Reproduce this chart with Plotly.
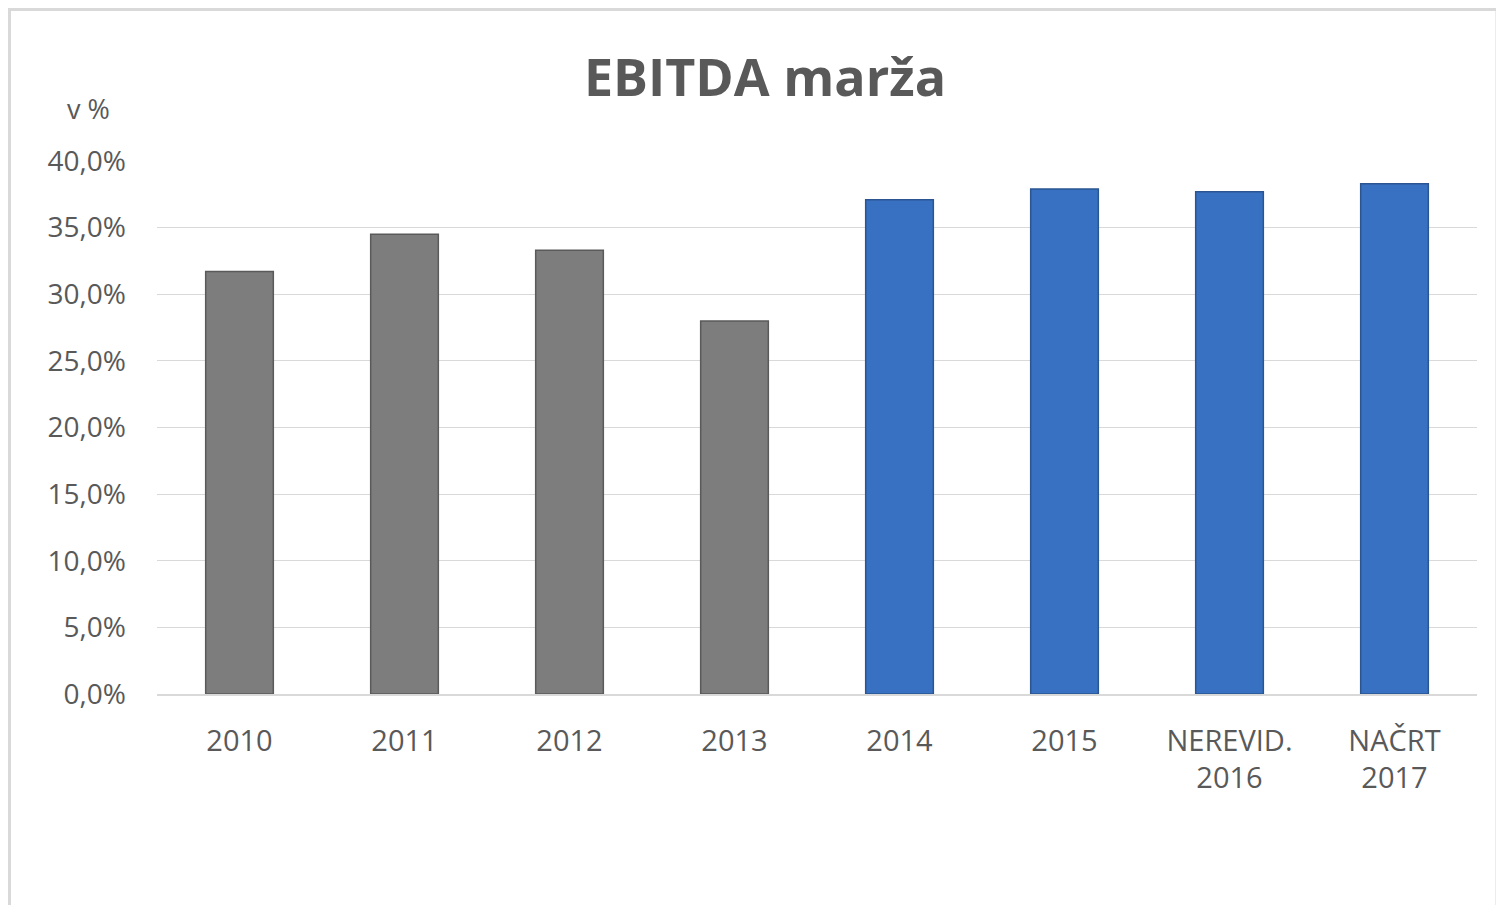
import plotly.graph_objects as go

categories = ["2010", "2011", "2012", "2013", "2014", "2015", "NEREVID.<br>2016", "NAČRT<br>2017"]
values = [31.7, 34.5, 33.3, 28.0, 37.1, 37.9, 37.7, 38.3]
bar_colors = ["#7d7d7d"] * 4 + ["#3871c2"] * 4
edge_colors = ["#5a5a5a"] * 4 + ["#2a5591"] * 4
tick_vals = [0, 5, 10, 15, 20, 25, 30, 35, 40]
tick_text = ["0,0%", "5,0%", "10,0%", "15,0%", "20,0%", "25,0%", "30,0%", "35,0%", "40,0%"]

OFF = 8  # page body margin
W, H = 1504, 905
L, R, T, B = 157 - OFF, 27 + OFF, 161 - OFF, 211 + OFF
pw, ph = W - L - R, H - T - B

fig = go.Figure()
fig.add_trace(go.Bar(
    x=categories, y=values,
    marker=dict(color=bar_colors, line=dict(color=edge_colors, width=1.5)),
    width=0.41,
    hoverinfo="x+y",
))

font_family = "'Open Sans', Lato, sans-serif"
fig.update_layout(
    width=W, height=H,
    margin=dict(l=L, r=R, t=T, b=B),
    paper_bgcolor="white", plot_bgcolor="white",
    showlegend=False,
    title=dict(text="<b>EBITDA marža</b>", x=(765 - OFF) / W, xanchor="center",
               y=1 - (78 - OFF) / H, yanchor="middle", yref="container",
               font=dict(size=52, color="#595959", family=font_family)),
    font=dict(family=font_family, color="#595959"),
    xaxis=dict(showgrid=False, showline=True, linecolor="#d9d9d9", linewidth=1.5,
               tickfont=dict(size=29, color="#595959"), ticks="",
               ticklabelstandoff=20),
    yaxis=dict(range=[0, 40], tickvals=tick_vals, ticktext=tick_text,
               showgrid=True, gridcolor="#d9d9d9", gridwidth=1.2,
               zeroline=False, showline=False, ticks="",
               tickfont=dict(size=28, color="#595959"),
               ticklabelstandoff=30),
    annotations=[dict(text="v %", xref="paper", yref="paper",
                      x=(88 - 157) / pw, y=(694 - 108) / ph,
                      xanchor="center", yanchor="middle", showarrow=False,
                      font=dict(size=27, color="#595959", family=font_family))],
    shapes=[dict(type="rect", xref="paper", yref="paper",
                 x0=(1.5 - L) / pw, x1=(1497 - 157) / pw,
                 y0=(694 - 910) / ph, y1=(T - 1.5) / ph + 1,
                 line=dict(color="#d9d9d9", width=3), fillcolor="rgba(0,0,0,0)",
                 layer="below")],
)

fig.write_html("out.html")
